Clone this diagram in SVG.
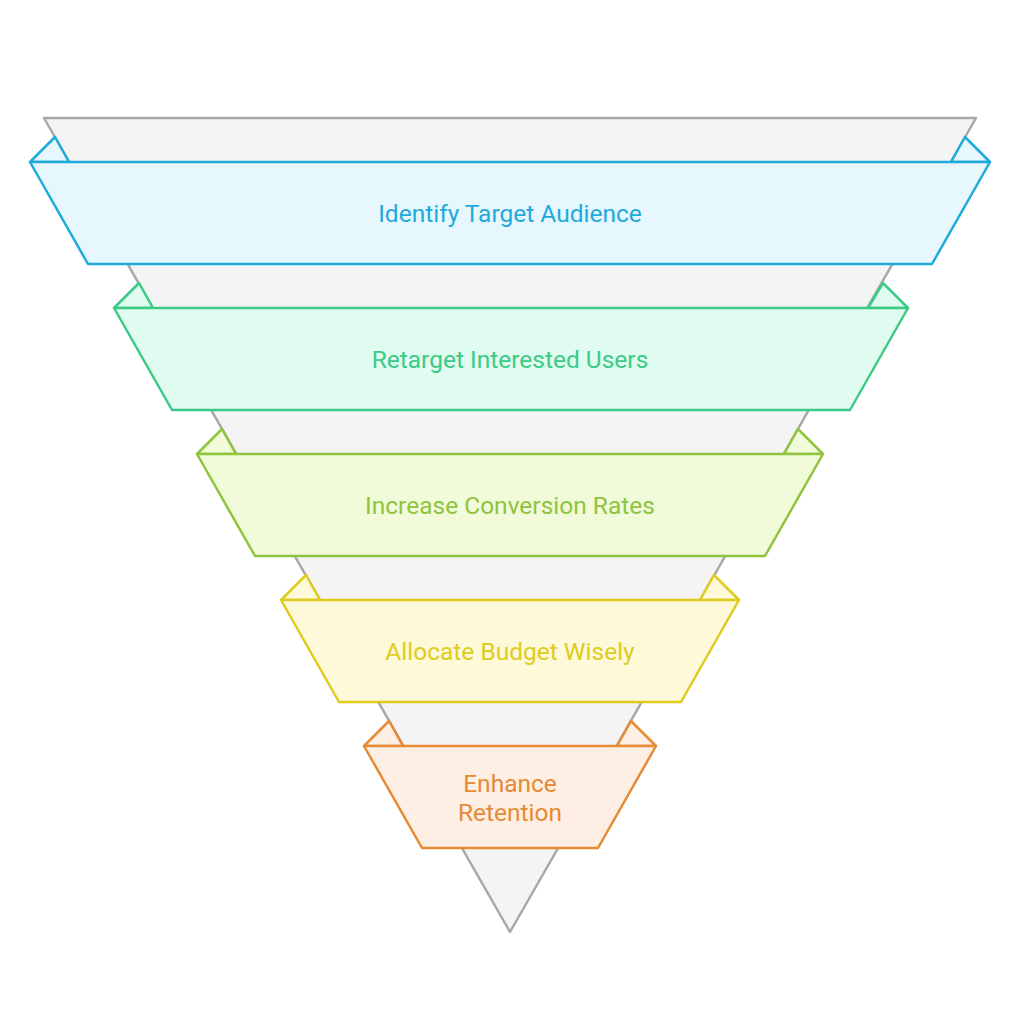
<svg xmlns="http://www.w3.org/2000/svg" width="1020" height="1024" viewBox="0 0 1020 1024">
<style>
.funnel{fill:#f4f4f4;stroke:#a8a8a8;stroke-width:2.5;stroke-linejoin:round}
.band{stroke-width:2.5;stroke-linejoin:round}
text{font-family:Roboto,"Liberation Sans",sans-serif;font-size:24.5px;text-anchor:middle}
.b1{fill:#e6f7fd;stroke:#1eaadb}.t1{fill:#1eaadb}
.b2{fill:#e0fbef;stroke:#3dca87}.t2{fill:#3dca87}
.b3{fill:#f1fbd9;stroke:#8fc43d}.t3{fill:#8fc43d}
.b4{fill:#fdf9d9;stroke:#e0cb1d}.t4{fill:#e0cb1d}
.b5{fill:#fdefe3;stroke:#e68a36}.t5{fill:#e68a36}
</style>
<rect width="1020" height="1024" fill="#ffffff"/>
<g id="funnel">
<polygon class="funnel" points="44,118 976,118 510,932"/>
</g>
<g id="connectors"></g>
<g id="stage1">
<polygon class="band b1" points="30,162 55,137 69,162"/>
<polygon class="band b1" points="990,162 965,137 951,162"/>
<polygon class="band b1" points="30,162 990,162 932,264 88,264"/>
<text class="t1" x="510" y="221.5">Identify Target Audience</text>
</g>
<g id="stage2">
<polygon class="band b2" points="114,308 139,283 153,308"/>
<polygon class="band b2" points="908,308 883,283 868,308"/>
<polygon class="band b2" points="114,308 908,308 850,410 172,410"/>
<text class="t2" x="510" y="367.5">Retarget Interested Users</text>
</g>
<g id="stage3">
<polygon class="band b3" points="197,454 222,429 236,454"/>
<polygon class="band b3" points="823,454 798,429 784,454"/>
<polygon class="band b3" points="197,454 823,454 765,556 255,556"/>
<text class="t3" x="510" y="513.5">Increase Conversion Rates</text>
</g>
<g id="stage4">
<polygon class="band b4" points="281,600 306,575 320,600"/>
<polygon class="band b4" points="739,600 714,575 700,600"/>
<polygon class="band b4" points="281,600 739,600 681,702 339,702"/>
<text class="t4" x="510" y="659.5">Allocate Budget Wisely</text>
</g>
<g id="stage5">
<polygon class="band b5" points="364,746 389,721 403,746"/>
<polygon class="band b5" points="656,746 631,721 617,746"/>
<polygon class="band b5" points="364,746 656,746 598,848 422,848"/>
<text class="t5" x="510" y="791.5">Enhance</text>
<text class="t5" x="510" y="820.5">Retention</text>
</g>
</svg>
